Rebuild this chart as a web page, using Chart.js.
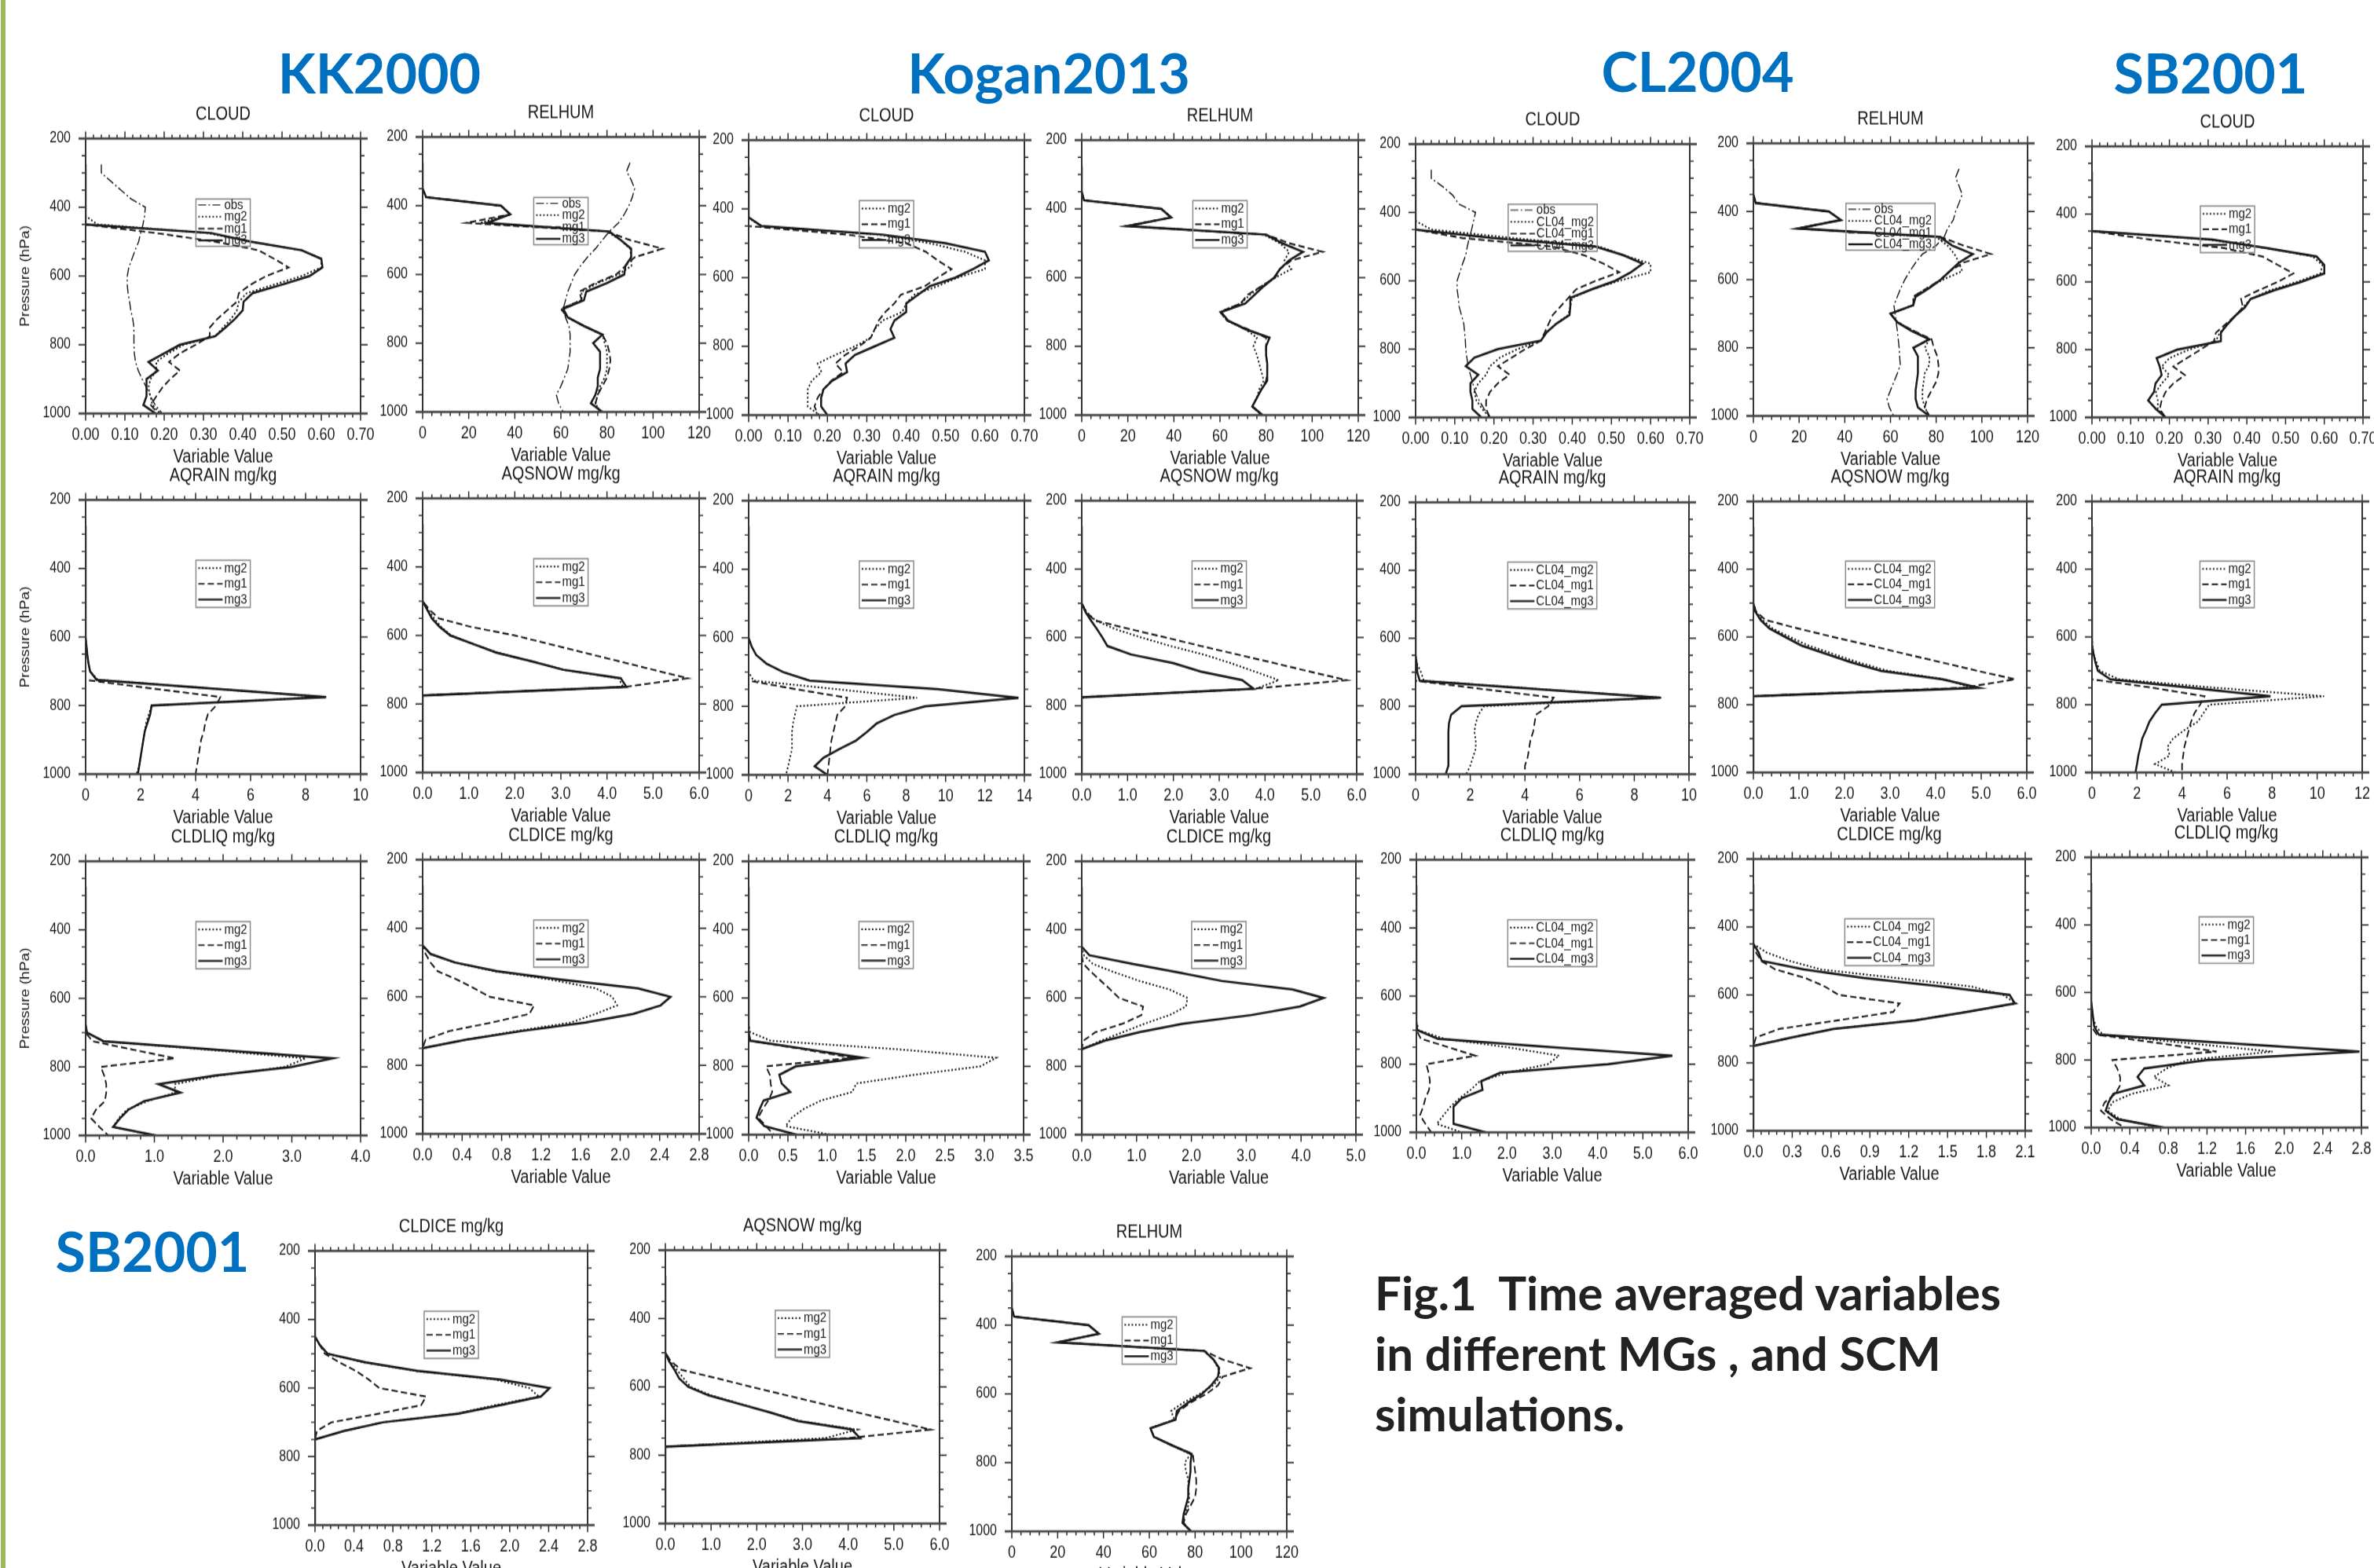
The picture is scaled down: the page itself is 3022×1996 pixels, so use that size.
<!DOCTYPE html>
<html>
<head>
<meta charset="utf-8">
<script src="https://cdn.jsdelivr.net/npm/chart.js@4.4.1/dist/chart.umd.min.js"></script>
<style>
html,body{margin:0;padding:0;background:#fff;}
#page{position:relative;width:3022px;height:1996px;overflow:hidden;background:#fff;}
.grp{position:absolute;width:600px;text-align:center;font-family:Lato,"Open Sans",sans-serif;font-weight:700;color:#0070c0;font-size:70px;line-height:70px;white-space:nowrap;}
canvas.cv{position:absolute;transform-origin:0 0;}
#cap{position:absolute;left:1750px;top:1607px;font-family:Lato,"Open Sans",sans-serif;font-weight:700;font-size:60px;line-height:77px;color:#222;white-space:pre;}
#edge{position:absolute;left:1px;top:0;width:6px;height:1996px;background:#9bbb59;}
</style>
</head>
<body>
<div id="page">
  <div id="edge"></div>
  <div class="grp" style="left:183px;top:57px;">KK2000</div>
  <div class="grp" style="left:1035px;top:57px;">Kogan2013</div>
  <div class="grp" style="left:1861px;top:55px;">CL2004</div>
  <div class="grp" style="left:2514px;top:57px;">SB2001</div>
  <div class="grp" style="left:-106px;top:1557px;">SB2001</div>
  <div id="cap">Fig.1  Time averaged variables
in different MGs , and SCM
simulations.</div>
</div>
<script>
// ---------- pressure levels (hPa) ----------
const LEV = [275,300,325,350,375,400,425,450,475,500,525,550,575,600,625,650,675,700,725,750,775,800,825,850,875,900,925,950,975,1000];

// ---------- KK2000 ----------
const kkCloudObs = [0.04,0.04,0.065,0.09,0.115, 0.152,0.15,0.146,0.14,0.135, 0.126,0.118,0.11,0.106,0.106, 0.108,0.112,0.115,0.12,0.123, 0.123,0.123,0.124,0.127,0.134, 0.144,0.155,0.165,0.177,0.195];
const kkCloudMg2 = [0,0,0,0,0, 0,0,0.03,0.31,0.42, 0.55,0.6,0.6,0.55,0.48, 0.41,0.39,0.385,0.37,0.35, 0.33,0.25,0.21,0.18,0.18, 0.165,0.16,0.165,0.17,0.19];
const kkCloudMg1 = [0,0,0,0,0, 0,0,0,0.18,0.33, 0.44,0.48,0.517,0.46,0.42, 0.39,0.385,0.36,0.335,0.316, 0.316,0.28,0.24,0.212,0.24, 0.215,0.195,0.18,0.166,0.184];
const kkCloudMg3 = [0,0,0,0,0, 0,0,0,0.32,0.42, 0.55,0.6,0.603,0.57,0.5, 0.425,0.402,0.4,0.38,0.356, 0.33,0.24,0.2,0.16,0.184, 0.155,0.155,0.155,0.147,0.178];

const kkRelObs = [90,88.5,90.5,92,91, 89.5,87.5,85,81,78, 75,71.5,68.5,66,64.5, 63,62,61,62,63.5, 64,64,64,63.5,63, 61.5,60,58,59,61];
const kkRelMg2 = [0,0,0,0,1.5, 34,38,25,80,86, 90,90.5,90.6,85,76, 69,69,60,63,70, 78,79,80,80,80, 79,77,76,75,77];
const kkRelMg1 = [0,0,0,0,1.5, 34,38,19,80,90, 104,92,88,84,75, 68,69,60,63,70, 78,80,81,81.5,81, 80,78,76,75,77];
const kkRelMg3 = [0,0,0,0,1.5, 34,38,28,81,86, 90.5,90.5,88,87.5,80, 71,70,61,63,70, 78,74,77,77,77, 76,76,75,73,78];

const kkRainMg2 = [0,0,0,0,0, 0,0,0,0,0, 0,0,0,0,0.03, 0.06,0.1,0.16,0.45,4.55, 8.7,2.4,2.3,2.2,2.15, 2.1,2.05,2.0,1.95,1.85];
const kkRainMg1 = [0,0,0,0,0, 0,0,0,0,0, 0,0,0,0,0, 0,0,0,0,2.4, 4.9,4.75,4.45,4.35,4.3, 4.2,4.15,4.1,4.05,4.0];
const kkRainMg3 = [0,0,0,0,0, 0,0,0,0,0, 0,0,0,0,0.03, 0.06,0.1,0.16,0.4,4.5, 8.75,2.4,2.35,2.25,2.15, 2.1,2.05,2.0,1.95,1.9];

const kkSnowMg2 = [0,0,0,0,0, 0,0,0,0,0, 0.12,0.25,0.4,0.62,1.1, 1.62,2.35,3.05,4.25,4.35, 0,0,0,0,0, 0,0,0,0,0];
const kkSnowMg1 = [0,0,0,0,0, 0,0,0,0,0, 0.15,0.35,1.05,2.0,2.75, 3.5,4.25,5.0,5.75,4.4, 0,0,0,0,0, 0,0,0,0,0];
const kkSnowMg3 = [0,0,0,0,0, 0,0,0,0,0, 0.1,0.2,0.37,0.6,1.1, 1.6,2.35,3.05,4.3,4.42, 0,0,0,0,0, 0,0,0,0,0];

const kkLiqMg2 = [0,0,0,0,0, 0,0,0,0,0, 0,0,0,0,0, 0,0,0.02,0.25,1.8, 3.2,2.9,1.95,1.3,1.3, 0.9,0.6,0.48,0.4,1.0];
const kkLiqMg1 = [0,0,0,0,0, 0,0,0,0,0, 0,0,0,0,0, 0,0,0,0.1,0.7, 1.3,0.22,0.27,0.3,0.3, 0.28,0.15,0.08,0.2,0.33];
const kkLiqMg3 = [0,0,0,0,0, 0,0,0,0,0, 0,0,0,0,0, 0,0,0.02,0.26,1.9, 3.59,3.0,1.9,1.06,1.38, 0.85,0.62,0.5,0.4,1.02];

const kkIceMg2 = [0,0,0,0,0, 0,0,0,0.08,0.32, 0.72,1.3,1.75,1.92,1.97, 1.75,1.5,0.95,0.44,0, 0,0,0,0,0, 0,0,0,0,0];
const kkIceMg1 = [0,0,0,0,0, 0,0,0,0.03,0.08, 0.15,0.35,0.52,0.68,1.13, 1.08,0.7,0.27,0.03,0, 0,0,0,0,0, 0,0,0,0,0];
const kkIceMg3 = [0,0,0,0,0, 0,0,0,0.08,0.33, 0.75,1.4,2.18,2.51,2.41, 2.13,1.65,1.0,0.44,0, 0,0,0,0,0, 0,0,0,0,0];

// ---------- Kogan2013 ----------
const koCloudMg2 = [0,0,0,0,0, 0,0,0.03,0.33,0.46, 0.55,0.6,0.6,0.53,0.48, 0.42,0.4,0.39,0.34,0.32, 0.31,0.27,0.22,0.175,0.185, 0.16,0.15,0.15,0.15,0.18];
const koCloudMg1 = [0,0,0,0,0, 0,0,0,0.25,0.4, 0.45,0.48,0.515,0.48,0.447, 0.386,0.37,0.347,0.33,0.32, 0.31,0.28,0.245,0.22,0.24, 0.21,0.19,0.175,0.167,0.178];
const koCloudMg3 = [0,0,0,0,0, 0,0,0.033,0.34,0.5, 0.6,0.61,0.57,0.525,0.46, 0.43,0.4,0.4,0.37,0.36, 0.37,0.32,0.27,0.246,0.25, 0.212,0.19,0.184,0.184,0.2];

const koRelMg2 = [0,0,0,0,1, 34.5,38.8,20,79,86, 90,88,91,84,78, 73,69,60,63,71, 76,74.5,76,77,78, 79,77,76,74,78];
const koRelMg1 = [0,0,0,0,1, 34.5,38.8,19,80,90, 104.5,91,86,84,78, 72,69,60,63,72, 80,80,80,80.5,80.5, 80,78,76,74,78];
const koRelMg3 = [0,0,0,0,1, 34.5,38.8,20,80,87, 96,90,86,83.5,79, 75,71,60.5,63.5,71, 81.5,80,80,80.5,80.5, 80.5,78,76,74,78.5];

const koRainMg2 = [0,0,0,0,0, 0,0,0,0,0, 0,0,0,0,0, 0,0,0,0.25,4.5, 8.55,2.45,2.35,2.25,2.2, 2.2,2.2,2.1,2.0,1.9];
const koRainMg1 = [0,0,0,0,0, 0,0,0,0,0, 0,0,0,0,0, 0,0,0,0,2.4, 5.0,4.9,4.5,4.4,4.3, 4.2,4.15,4.1,4.05,4.0];
const koRainMg3 = [0,0,0,0,0, 0,0,0,0,0, 0,0,0,0,0.15, 0.38,0.9,1.75,3.1,9.6, 13.7,8.95,7.4,6.5,6.0, 5.45,4.6,3.8,3.35,4.0];

const koSnowMg2 = [0,0,0,0,0, 0,0,0,0,0, 0.1,0.3,0.72,1.3,1.93, 2.66,3.25,3.78,4.3,3.8, 0,0,0,0,0, 0,0,0,0,0];
const koSnowMg1 = [0,0,0,0,0, 0,0,0,0,0, 0.1,0.28,1.03,1.83,2.6, 3.4,4.2,4.98,5.78,3.75, 0,0,0,0,0, 0,0,0,0,0];
const koSnowMg3 = [0,0,0,0,0, 0,0,0,0,0, 0.08,0.2,0.33,0.45,0.56, 1.08,2.0,2.6,3.5,3.75, 0,0,0,0,0, 0,0,0,0,0];

const koLiqMg2 = [0,0,0,0,0, 0,0,0,0,0, 0,0,0,0,0, 0,0,0.02,0.28,1.9, 3.15,2.95,2.1,1.37,1.32, 0.92,0.7,0.55,0.47,1.04];
const koLiqMg1 = [0,0,0,0,0, 0,0,0,0,0, 0,0,0,0,0, 0,0,0,0.02,0.7, 1.32,0.22,0.27,0.28,0.3, 0.25,0.18,0.12,0.22,0.32];
const koLiqMg3 = [0,0,0,0,0, 0,0,0,0,0, 0,0,0,0,0, 0,0,0,0.02,0.75, 1.45,0.6,0.39,0.42,0.53, 0.19,0.14,0.1,0.2,0.61];

const koIceMg2 = [0,0,0,0,0, 0,0,0,0.04,0.2, 0.6,1.05,1.6,1.93,1.9, 1.6,1.15,0.75,0.35,0, 0,0,0,0,0, 0,0,0,0,0];
const koIceMg1 = [0,0,0,0,0, 0,0,0,0,0.03, 0.18,0.35,0.52,0.68,1.12, 1.09,0.75,0.25,0.03,0, 0,0,0,0,0, 0,0,0,0,0];
const koIceMg3 = [0,0,0,0,0, 0,0,0,0.14,0.92, 1.75,2.55,3.85,4.41,3.98, 3.09,1.85,1.05,0.42,0, 0,0,0,0,0, 0,0,0,0,0];

// ---------- CL2004 ----------
const clCloudObs = [0.04,0.04,0.07,0.095,0.11, 0.153,0.148,0.143,0.137,0.132, 0.128,0.12,0.113,0.106,0.106, 0.109,0.111,0.117,0.123,0.125, 0.127,0.128,0.131,0.134,0.14, 0.146,0.152,0.162,0.175,0.19];
const clCloudMg2 = [0,0,0,0,0, 0,0,0.04,0.25,0.47, 0.53,0.6,0.6,0.52,0.45, 0.4,0.395,0.39,0.36,0.335, 0.32,0.26,0.215,0.19,0.18, 0.16,0.15,0.155,0.17,0.19];
const clCloudMg1 = [0,0,0,0,0, 0,0,0,0.12,0.35, 0.43,0.48,0.52,0.46,0.41, 0.39,0.37,0.35,0.34,0.33, 0.32,0.28,0.245,0.21,0.24, 0.21,0.19,0.18,0.18,0.19];
const clCloudMg3 = [0,0,0,0,0, 0,0,0,0.2,0.46, 0.53,0.58,0.55,0.51,0.45, 0.395,0.395,0.393,0.36,0.335, 0.32,0.21,0.15,0.128,0.16, 0.14,0.14,0.145,0.145,0.168];

const clRelObs = [90,88.5,90,91.4,90, 88.5,87.5,85,83.5,80, 74,71,68.5,66.3,64.5, 63,61.5,62,62.5,63, 63.4,63.8,64,64.3,63, 61.5,60,58.5,59.5,61.4];
const clRelMg2 = [0,0,0,0,1, 33,38.3,19.5,80,85, 88,90,91.4,83,76, 70,70,60,63,70, 77,75,77,77,75, 74.5,74,74,75,77];
const clRelMg1 = [0,0,0,0,1, 33,38.3,19.5,82,92, 104,92,86,82,76, 70,70,60,63,70, 78,79,80.5,81,81, 80,78,76,75,77];
const clRelMg3 = [0,0,0,0,1, 33,38.3,19.5,81.7,87, 96,90,86,82,77, 71,70,60,63,69, 77,70,72,72,72, 71.5,71,71,72,77];

const clRainMg2 = [0,0,0,0,0, 0,0,0,0,0, 0,0,0,0,0, 0,0.05,0.2,0.3,4.6, 9.0,2.5,2.3,2.2,2.15, 2.2,2.2,2.1,2.0,1.85];
const clRainMg1 = [0,0,0,0,0, 0,0,0,0,0, 0,0,0,0,0, 0,0,0,0,2.5, 5.05,4.85,4.4,4.35,4.3, 4.2,4.15,4.1,4.0,4.0];
const clRainMg3 = [0,0,0,0,0, 0,0,0,0,0, 0,0,0,0,0, 0.02,0.04,0.06,0.15,4.5, 8.95,1.68,1.3,1.22,1.2, 1.2,1.2,1.2,1.2,1.1];

const clSnowMg2 = [0,0,0,0,0, 0,0,0,0,0, 0.06,0.2,0.42,0.8,1.2, 1.75,2.3,2.95,4.2,4.8, 0,0,0,0,0, 0,0,0,0,0];
const clSnowMg1 = [0,0,0,0,0, 0,0,0,0,0, 0.06,0.27,0.98,1.75,2.56, 3.33,4.13,4.92,5.74,4.6, 0,0,0,0,0, 0,0,0,0,0];
const clSnowMg3 = [0,0,0,0,0, 0,0,0,0,0, 0.04,0.16,0.35,0.7,1.05, 1.6,2.15,2.8,4.15,4.95, 0,0,0,0,0, 0,0,0,0,0];

const clLiqMg2 = [0,0,0,0,0, 0,0,0,0,0, 0,0,0,0,0, 0,0,0.05,0.6,2.0, 3.15,2.9,2.0,1.4,1.2, 0.95,0.75,0.6,0.45,1.0];
const clLiqMg1 = [0,0,0,0,0, 0,0,0,0,0, 0,0,0,0,0, 0,0,0,0.1,0.7, 1.3,0.22,0.27,0.3,0.28, 0.2,0.15,0.08,0.2,0.33];
const clLiqMg3 = [0,0,0,0,0, 0,0,0,0,0, 0,0,0,0,0, 0,0,0.02,0.47,3.0, 5.65,4.23,1.85,1.43,1.46, 1.0,0.82,0.82,0.82,1.53];

const clIceMg2 = [0,0,0,0,0, 0,0,0,0.1,0.28, 0.52,1.1,1.68,1.93,2.03, 1.65,1.24,0.62,0.3,0, 0,0,0,0,0, 0,0,0,0,0];
const clIceMg1 = [0,0,0,0,0, 0,0,0,0.02,0.06, 0.17,0.4,0.55,0.66,1.13, 1.08,0.65,0.2,0.02,0, 0,0,0,0,0, 0,0,0,0,0];
const clIceMg3 = [0,0,0,0,0, 0,0,0,0.04,0.065, 0.39,0.85,1.45,1.98,2.02, 1.65,1.25,0.62,0.3,0, 0,0,0,0,0, 0,0,0,0,0];

// ---------- SB2001 ----------
const sbCloudMg2 = [0,0,0,0,0, 0,0,0,0.3,0.45, 0.57,0.595,0.59,0.53,0.46, 0.41,0.39,0.37,0.35,0.33, 0.32,0.25,0.2,0.18,0.2, 0.18,0.165,0.17,0.17,0.19];
const sbCloudMg1 = [0,0,0,0,0, 0,0,0,0.15,0.34, 0.44,0.48,0.52,0.48,0.43, 0.385,0.39,0.37,0.345,0.32, 0.315,0.28,0.245,0.21,0.24, 0.21,0.19,0.18,0.175,0.19];
const sbCloudMg3 = [0,0,0,0,0, 0,0,0,0.31,0.45, 0.58,0.6,0.6,0.54,0.47, 0.41,0.395,0.37,0.35,0.333, 0.333,0.22,0.167,0.175,0.18, 0.164,0.16,0.145,0.165,0.19];

const sbRainMg2 = [0,0,0,0,0, 0,0,0,0,0, 0,0,0,0,0.02, 0.07,0.2,0.35,1.2,5.5, 10.3,5.2,4.95,4.7,4.1, 3.6,3.35,3.45,2.8,3.7];
const sbRainMg1 = [0,0,0,0,0, 0,0,0,0,0, 0,0,0,0,0, 0,0,0,0,2.7, 5.0,4.8,4.55,4.4,4.3, 4.2,4.1,4.05,4.0,4.0];
const sbRainMg3 = [0,0,0,0,0, 0,0,0,0,0, 0,0,0,0,0.02, 0.07,0.15,0.26,0.82,4.4, 7.93,3.1,2.8,2.55,2.4, 2.23,2.15,2.06,2.0,1.93];

const sbLiqMg2 = [0,0,0,0,0, 0,0,0,0,0, 0,0,0,0,0, 0.01,0.02,0.05,0.12,1.0, 1.88,1.0,0.78,0.65,0.8, 0.42,0.22,0.17,0.3,0.7];
const sbLiqMg1 = [0,0,0,0,0, 0,0,0,0,0, 0,0,0,0,0, 0,0,0,0.06,0.7, 1.3,0.22,0.27,0.3,0.3, 0.25,0.14,0.1,0.2,0.35];
const sbLiqMg3 = [0,0,0,0,0, 0,0,0,0,0, 0,0,0,0,0, 0.01,0.02,0.03,0.08,1.4, 2.78,1.2,0.55,0.48,0.55, 0.23,0.18,0.15,0.27,0.75];

const sbIceMg2 = [0,0,0,0,0, 0,0,0,0.05,0.13, 0.5,1.03,1.85,2.2,2.3, 1.85,1.45,0.7,0.3,0, 0,0,0,0,0, 0,0,0,0,0];
const sbIceMg1 = [0,0,0,0,0, 0,0,0,0.05,0.1, 0.25,0.42,0.55,0.66,1.14, 1.09,0.65,0.17,0.02,0, 0,0,0,0,0, 0,0,0,0,0];
const sbIceMg3 = [0,0,0,0,0, 0,0,0,0.05,0.13, 0.52,1.05,1.9,2.41,2.32, 1.9,1.47,0.7,0.3,0, 0,0,0,0,0, 0,0,0,0,0];

const sbSnowMg2 = [0,0,0,0,0, 0,0,0,0,0, 0.1,0.25,0.4,0.55,1.0, 1.65,2.3,2.95,4.2,3.5, 0,0,0,0,0, 0,0,0,0,0];
const sbSnowMg1 = [0,0,0,0,0, 0,0,0,0,0, 0.12,0.35,1.13,1.88,2.66, 3.44,4.2,5.0,5.8,4.0, 0,0,0,0,0, 0,0,0,0,0];
const sbSnowMg3 = [0,0,0,0,0, 0,0,0,0,0, 0.08,0.2,0.3,0.5,0.95, 1.62,2.3,2.9,4.08,4.26, 0,0,0,0,0, 0,0,0,0,0];

const sbRelMg2 = [0,0,0,0,1, 33.5,38,20,84,88, 90,91,88,82,75, 69.5,71,60.5,62,70, 78,75.5,76,77,77, 77.5,77,75.5,74.5,78];
const sbRelMg1 = [0,0,0,0,1, 33.5,38,20,84,92, 104,92,90,85,78, 73,71,60.5,62,70, 79,79.5,80,80.5,80.5, 80,78,76,75,78];
const sbRelMg3 = [0,0,0,0,1, 33.5,38,20,84,88, 90.5,90,87,83,77, 72,71.5,60.5,62,70, 78.5,78,78,77.5,77, 77,76,75,74.5,78.3];

// ---------- axis settings ----------
const Y_MIN = 200, Y_MAX = 1000, Y_STEP = 200;
const Y_TITLE = 'Pressure (hPa)';
const X_TITLE = 'Variable Value';

// ---------- line styles ----------
const STY = {
  obs: {borderDash:[10,3,2,3], borderWidth:1.4},
  mg2: {borderDash:[2,2.5],    borderWidth:1.9},
  mg1: {borderDash:[8,4],      borderWidth:1.9},
  mg3: {borderDash:[],         borderWidth:2.5}
};

const FONT = '"Liberation Sans", Arial, Helvetica, sans-serif';
const SY = 1.2;          // vertical stretch of the original figure

const PANELS = [
  // row 1
  {L:109, T:176, R:459, B:526, title:'CLOUD', xmax:0.7, step:0.1, dec:2, yt:true,
   s:[['obs',kkCloudObs,'obs'],['mg2',kkCloudMg2,'mg2'],['mg1',kkCloudMg1,'mg1'],['mg3',kkCloudMg3,'mg3']]},
  {L:538, T:174, R:890, B:524, title:'RELHUM', xmax:120, step:20, dec:0,
   s:[['obs',kkRelObs,'obs'],['mg2',kkRelMg2,'mg2'],['mg1',kkRelMg1,'mg1'],['mg3',kkRelMg3,'mg3']]},
  {L:953, T:178, R:1304, B:528, title:'CLOUD', xmax:0.7, step:0.1, dec:2,
   s:[['mg2',koCloudMg2,'mg2'],['mg1',koCloudMg1,'mg1'],['mg3',koCloudMg3,'mg3']]},
  {L:1377, T:178, R:1729, B:528, title:'RELHUM', xmax:120, step:20, dec:0,
   s:[['mg2',koRelMg2,'mg2'],['mg1',koRelMg1,'mg1'],['mg3',koRelMg3,'mg3']]},
  {L:1802, T:183, R:2151, B:531, title:'CLOUD', xmax:0.7, step:0.1, dec:2,
   s:[['obs',clCloudObs,'obs'],['mg2',clCloudMg2,'CL04_mg2'],['mg1',clCloudMg1,'CL04_mg1'],['mg3',clCloudMg3,'CL04_mg3']]},
  {L:2232, T:182, R:2581, B:529, title:'RELHUM', xmax:120, step:20, dec:0,
   s:[['obs',clRelObs,'obs'],['mg2',clRelMg2,'CL04_mg2'],['mg1',clRelMg1,'CL04_mg1'],['mg3',clRelMg3,'CL04_mg3']]},
  {L:2663, T:186, R:3008, B:531, title:'CLOUD', xmax:0.7, step:0.1, dec:2,
   s:[['mg2',sbCloudMg2,'mg2'],['mg1',sbCloudMg1,'mg1'],['mg3',sbCloudMg3,'mg3']]},
  // row 2
  {L:109, T:636, R:459, B:985, title:'AQRAIN mg/kg', xmax:10, step:2, dec:0, yt:true,
   s:[['mg2',kkRainMg2,'mg2'],['mg1',kkRainMg1,'mg1'],['mg3',kkRainMg3,'mg3']]},
  {L:538, T:634, R:890, B:983, title:'AQSNOW mg/kg', xmax:6, step:1, dec:1,
   s:[['mg2',kkSnowMg2,'mg2'],['mg1',kkSnowMg1,'mg1'],['mg3',kkSnowMg3,'mg3']]},
  {L:953, T:637, R:1304, B:986, title:'AQRAIN mg/kg', xmax:14, step:2, dec:0,
   s:[['mg2',koRainMg2,'mg2'],['mg1',koRainMg1,'mg1'],['mg3',koRainMg3,'mg3']]},
  {L:1377, T:637, R:1727, B:985, title:'AQSNOW mg/kg', xmax:6, step:1, dec:1,
   s:[['mg2',koSnowMg2,'mg2'],['mg1',koSnowMg1,'mg1'],['mg3',koSnowMg3,'mg3']]},
  {L:1802, T:639, R:2150, B:985, title:'AQRAIN mg/kg', xmax:10, step:2, dec:0,
   s:[['mg2',clRainMg2,'CL04_mg2'],['mg1',clRainMg1,'CL04_mg1'],['mg3',clRainMg3,'CL04_mg3']]},
  {L:2232, T:638, R:2580, B:983, title:'AQSNOW mg/kg', xmax:6, step:1, dec:1,
   s:[['mg2',clSnowMg2,'CL04_mg2'],['mg1',clSnowMg1,'CL04_mg1'],['mg3',clSnowMg3,'CL04_mg3']]},
  {L:2663, T:638, R:3007, B:983, title:'AQRAIN mg/kg', xmax:12, step:2, dec:0,
   s:[['mg2',sbRainMg2,'mg2'],['mg1',sbRainMg1,'mg1'],['mg3',sbRainMg3,'mg3']]},
  // row 3
  {L:109, T:1096, R:459, B:1445, title:'CLDLIQ mg/kg', xmax:4, step:1, dec:1, yt:true,
   s:[['mg2',kkLiqMg2,'mg2'],['mg1',kkLiqMg1,'mg1'],['mg3',kkLiqMg3,'mg3']]},
  {L:538, T:1094, R:890, B:1443, title:'CLDICE mg/kg', xmax:2.8, step:0.4, dec:1,
   s:[['mg2',kkIceMg2,'mg2'],['mg1',kkIceMg1,'mg1'],['mg3',kkIceMg3,'mg3']]},
  {L:953, T:1096, R:1303, B:1444, title:'CLDLIQ mg/kg', xmax:3.5, step:0.5, dec:1,
   s:[['mg2',koLiqMg2,'mg2'],['mg1',koLiqMg1,'mg1'],['mg3',koLiqMg3,'mg3']]},
  {L:1377, T:1096, R:1726, B:1444, title:'CLDICE mg/kg', xmax:5, step:1, dec:1,
   s:[['mg2',koIceMg2,'mg2'],['mg1',koIceMg1,'mg1'],['mg3',koIceMg3,'mg3']]},
  {L:1803, T:1094, R:2149, B:1441, title:'CLDLIQ mg/kg', xmax:6, step:1, dec:1,
   s:[['mg2',clLiqMg2,'CL04_mg2'],['mg1',clLiqMg1,'CL04_mg1'],['mg3',clLiqMg3,'CL04_mg3']]},
  {L:2232, T:1093, R:2578, B:1439, title:'CLDICE mg/kg', xmax:2.1, step:0.3, dec:1,
   s:[['mg2',clIceMg2,'CL04_mg2'],['mg1',clIceMg1,'CL04_mg1'],['mg3',clIceMg3,'CL04_mg3']]},
  {L:2662, T:1091, R:3006, B:1435, title:'CLDLIQ mg/kg', xmax:2.8, step:0.4, dec:1,
   s:[['mg2',sbLiqMg2,'mg2'],['mg1',sbLiqMg1,'mg1'],['mg3',sbLiqMg3,'mg3']]},
  // row 4 (SB2001)
  {L:401, T:1592, R:748, B:1941, title:'CLDICE mg/kg', xmax:2.8, step:0.4, dec:1,
   s:[['mg2',sbIceMg2,'mg2'],['mg1',sbIceMg1,'mg1'],['mg3',sbIceMg3,'mg3']]},
  {L:847, T:1591, R:1196, B:1939, title:'AQSNOW mg/kg', xmax:6, step:1, dec:1,
   s:[['mg2',sbSnowMg2,'mg2'],['mg1',sbSnowMg1,'mg1'],['mg3',sbSnowMg3,'mg3']]},
  {L:1288, T:1599, R:1638, B:1949, title:'RELHUM', xmax:120, step:20, dec:0,
   s:[['mg2',sbRelMg2,'mg2'],['mg1',sbRelMg1,'mg1'],['mg3',sbRelMg3,'mg3']]}
];

// frame + NCL-like outward tick marks, positioned through the chart's own scales
function framePlugin(p, sy){
  return {
    id:'nclFrame',
    afterDraw(chart){
      const {ctx, chartArea:a} = chart;
      const xs = chart.scales.x, ys = chart.scales.y;
      ctx.save();
      ctx.strokeStyle = '#2a2a2a';
      ctx.lineWidth = 1.5;
      ctx.beginPath();
      const minor = p.step/5;
      const n = Math.round(p.xmax/minor);
      for (let i=0;i<=n;i++){
        const px = xs.getPixelForValue(i*minor);
        const len = ((i%5===0) ? 9 : 5)/sy;
        ctx.moveTo(px, a.top); ctx.lineTo(px, a.top-len);
        ctx.moveTo(px, a.bottom); ctx.lineTo(px, a.bottom+len);
      }
      ctx.stroke();
      ctx.lineWidth = 1.3;
      ctx.beginPath();
      for (let v=Y_MIN; v<=Y_MAX; v+=Y_STEP/4){
        const py = ys.getPixelForValue(v);
        const len = ((v-Y_MIN)%Y_STEP===0) ? 9 : 5;
        ctx.moveTo(a.left, py); ctx.lineTo(a.left-len, py);
        ctx.moveTo(a.right, py); ctx.lineTo(a.right+len, py);
      }
      ctx.stroke();
      ctx.lineWidth = 2;
      ctx.strokeStyle = '#333';
      ctx.beginPath();
      ctx.moveTo(a.left, a.top); ctx.lineTo(a.left, a.bottom);
      ctx.moveTo(a.right, a.top); ctx.lineTo(a.right, a.bottom);
      ctx.stroke();
      ctx.lineWidth = 2.3;
      ctx.strokeStyle = '#444';
      ctx.beginPath();
      ctx.moveTo(a.left-9, a.top); ctx.lineTo(a.right+9, a.top);
      ctx.moveTo(a.left-9, a.bottom); ctx.lineTo(a.right+9, a.bottom);
      ctx.stroke();
      ctx.restore();
    }
  };
}

// boxed legend inside the plot, built from the datasets
function legendPlugin(sy){
  return {
    id:'nclLegend',
    afterDatasetsDraw(chart){
      const {ctx, chartArea:a} = chart;
      const ds = chart.data.datasets;
      const W = a.right-a.left, H = a.bottom-a.top;
      ctx.save();
      ctx.font = '15px ' + FONT;
      let tw = 0;
      ds.forEach(d => { tw = Math.max(tw, ctx.measureText(d.label).width); });
      const lineLen = 31, padL = 3, gap = 2, padR = 4;
      const bw = padL + lineLen + gap + tw + padR;
      const bh = 0.172*H;
      const bx = a.left + 0.5*W - bw/2, by = a.top + 0.22*H;
      ctx.strokeStyle = '#8c8c8c'; ctx.lineWidth = 1.5;
      ctx.strokeRect(bx, by, bw, bh);
      ds.forEach((d,i) => {
        const cy = by + (i+0.5)*bh/ds.length;
        ctx.setLineDash(d.borderDash || []);
        ctx.lineWidth = d.borderWidth/sy; ctx.strokeStyle = d.borderColor;
        ctx.beginPath(); ctx.moveTo(bx+padL, cy); ctx.lineTo(bx+padL+lineLen, cy); ctx.stroke();
        ctx.setLineDash([]);
        ctx.fillStyle = '#222'; ctx.textBaseline = 'middle'; ctx.textAlign = 'left';
        ctx.fillText(d.label, bx+padL+lineLen+gap, cy);
      });
      ctx.restore();
    }
  };
}

const page = document.getElementById('page');
PANELS.forEach(p => {
  const LP = (p.L <= 120) ? p.L : 70;
  const RP = 30, TOPC = 42, BOTC = 60;          // canvas units (before stretch)
  const W = p.R - p.L, H = p.B - p.T;
  const cw = LP + W + RP;
  const ch = Math.round(TOPC + H/SY + BOTC);
  const sy = H / (ch - TOPC - BOTC);            // exact stretch for this panel
  const cv = document.createElement('canvas');
  cv.className = 'cv';
  cv.width = cw; cv.height = ch;
  cv.style.width = cw + 'px'; cv.style.height = ch + 'px';
  cv.style.left = (p.L - LP) + 'px';
  cv.style.top = (p.T - TOPC*sy) + 'px';
  cv.style.transform = 'scaleY(' + sy + ')';
  page.appendChild(cv);
  new Chart(cv, {
    type:'scatter',
    data:{
      datasets: p.s.map(([key, arr, label]) => ({
        label,
        data: LEV.map((lev, i) => ({x: arr[i], y: lev})),
        showLine: true, fill: false, tension: 0,
        pointRadius: 0, pointHoverRadius: 0,
        borderColor: '#1a1a1a', backgroundColor: '#1a1a1a',
        borderWidth: STY[key].borderWidth, borderDash: STY[key].borderDash
      }))
    },
    options:{
      responsive:false, animation:false, devicePixelRatio:1, events:[],
      layout:{padding:{left:0, right:RP, top:0, bottom:0}},
      plugins:{
        legend:{display:false}, tooltip:{enabled:false},
        title:{display:true, fullSize:false, text:p.title, color:'#1a1a1a',
               font:{family:FONT, size:20, weight:'normal', lineHeight:1.2},
               padding:{top:4, bottom:14}}
      },
      scales:{
        x:{type:'linear', position:'bottom', min:0, max:p.xmax,
           ticks:{stepSize:p.step, autoSkip:false, maxRotation:0, padding:12, color:'#1a1a1a',
                  font:{family:FONT, size:18}, callback:(v)=>Number(v).toFixed(p.dec)},
           grid:{display:false, drawTicks:false}, border:{display:false},
           title:{display:true, text:X_TITLE, color:'#1a1a1a', font:{family:FONT, size:20}, padding:{top:0, bottom:1.3}},
           afterFit(s){ s.height = BOTC; }},
        y:{type:'linear', position:'left', reverse:true, min:Y_MIN, max:Y_MAX,
           ticks:{stepSize:Y_STEP, autoSkip:false, padding:19, color:'#1a1a1a',
                  font:{family:FONT, size:16}, callback:(v)=>String(v)},
           grid:{display:false, drawTicks:false}, border:{display:false},
           title:{display:!!p.yt, text:Y_TITLE, color:'#1a1a1a', font:{family:FONT, size:16}, padding:{top:23, bottom:0}},
           afterFit(s){ s.width = LP; }}
      }
    },
    plugins:[framePlugin(p, sy), legendPlugin(sy)]
  });
});
</script>
</body>
</html>
